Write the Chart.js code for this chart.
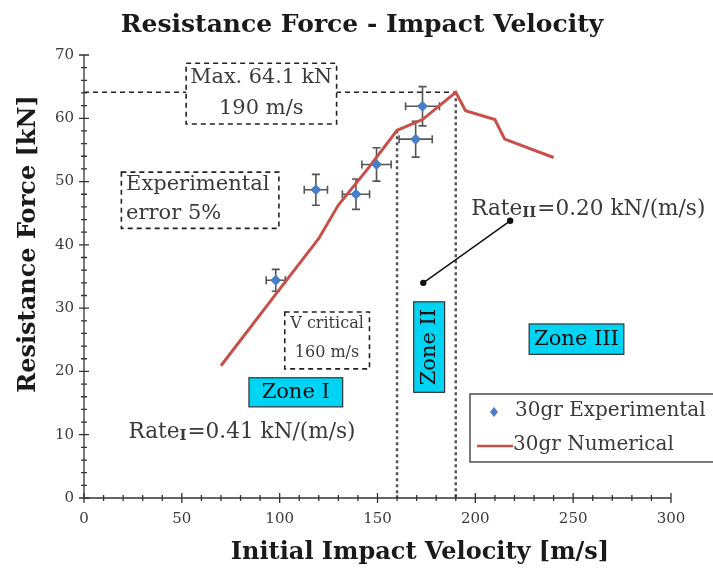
<!DOCTYPE html>
<html><head><meta charset="utf-8">
<script src="https://cdn.jsdelivr.net/npm/chart.js@4.4.1/dist/chart.umd.min.js"></script>
<style>html,body{margin:0;padding:0;background:#fff}#wrap{width:713px;height:572px;position:relative}</style>
</head><body><div id="wrap"><canvas id="c" width="713" height="572"></canvas></div>
<script>
// ---- data ----
const expVelocity = [98, 118.5, 139, 149.5, 169.5, 173];
const expForce = [34.4, 48.7, 48.0, 52.7, 56.7, 61.9];
const expErrorPct = 5;
const numVelocity = [70, 100, 120, 130, 145, 160, 173, 190, 195, 210, 215, 240];
const numForce = [20.9, 33.0, 41.0, 46.3, 52.0, 58.1, 59.8, 64.1, 61.2, 59.8, 56.7, 53.8];
const xTicks = [0, 50, 100, 150, 200, 250, 300];
const yTicks = [0, 10, 20, 30, 40, 50, 60, 70];
const peakVelocity = 190, peakForce = 64.1;
const criticalVelocity = 160, criticalForce = 58.1;
const rateLine = [[173.4, 34.0], [217.8, 43.8]];

const SERIF = '"DejaVu Serif", "Liberation Serif", serif';
const TXT = '#3a3a3a';
const ANN = '21px ' + SERIF;
const RATE = '21.6px ' + SERIF;

function dashedBox(ctx, x1, y1, x2, y2) {
  ctx.save();
  ctx.fillStyle = '#fff';
  ctx.fillRect(x1, y1, x2 - x1, y2 - y1);
  ctx.setLineDash([5, 4]);
  ctx.lineWidth = 1.6;
  ctx.strokeStyle = '#222';
  ctx.strokeRect(x1, y1, x2 - x1, y2 - y1);
  ctx.restore();
}
function zoneBox(ctx, x1, y1, x2, y2) {
  ctx.save();
  ctx.fillStyle = '#00d4f5';
  ctx.fillRect(x1, y1, x2 - x1, y2 - y1);
  ctx.lineWidth = 1.2;
  ctx.strokeStyle = '#333';
  ctx.strokeRect(x1, y1, x2 - x1, y2 - y1);
  ctx.restore();
}
function rateText(ctx, x, y, sub, rest) {
  ctx.save();
  ctx.fillStyle = TXT;
  ctx.textBaseline = 'middle';
  ctx.textAlign = 'left';
  ctx.font = RATE;
  ctx.fillText('Rate', x, y);
  let w = ctx.measureText('Rate').width;
  ctx.font = 'bold 15px "DejaVu Serif", serif';
  ctx.fillText(sub, x + w, y + 4);
  w += ctx.measureText(sub).width + 1;
  ctx.font = RATE;
  ctx.fillText(rest, x + w, y);
  ctx.restore();
}

const overlay = {
  id: 'overlay',
  beforeDatasetsDraw(chart) {
    const ctx = chart.ctx, xs = chart.scales.x, ys = chart.scales.y;
    const X = v => xs.getPixelForValue(v), Y = v => ys.getPixelForValue(v);
    // reference lines
    ctx.save();
    ctx.setLineDash([5, 4]);
    ctx.lineWidth = 1.5;
    ctx.strokeStyle = '#222';
    ctx.beginPath();
    ctx.moveTo(X(0), Y(peakForce)); ctx.lineTo(X(peakVelocity), Y(peakForce));
    ctx.stroke();
    ctx.setLineDash([3, 3]);
    ctx.lineWidth = 2.5;
    ctx.strokeStyle = '#555';
    ctx.beginPath();
    ctx.moveTo(X(peakVelocity), Y(peakForce)); ctx.lineTo(X(peakVelocity), Y(0));
    ctx.moveTo(X(criticalVelocity), Y(criticalForce)); ctx.lineTo(X(criticalVelocity), Y(0));
    ctx.stroke();
    ctx.restore();

    // dashed annotation boxes
    ctx.save();
    ctx.font = ANN;
    ctx.textBaseline = 'middle';
    dashedBox(ctx, X(52.2), Y(68.7), X(129.1), Y(59.1));
    ctx.fillStyle = TXT; ctx.textAlign = 'center';
    ctx.fillText('Max. 64.1 kN', X(90.6), Y(66.4), 142);
    ctx.fillText('190 m/s', X(90.6), Y(61.5));
    dashedBox(ctx, X(19.1), Y(51.5), X(99.6), Y(42.6));
    ctx.fillStyle = TXT; ctx.textAlign = 'left';
    ctx.fillText('Experimental', X(21.5), Y(49.5));
    ctx.fillText('error 5%', X(21.5), Y(44.9));
    dashedBox(ctx, X(102.6), Y(29.4), X(145.9), Y(20.4));
    ctx.fillStyle = TXT; ctx.textAlign = 'center';
    ctx.font = '16px ' + SERIF;
    ctx.fillText('V critical', X(124.2), Y(27.5), 76);
    ctx.fillText('160 m/s', X(124.2), Y(22.9));
    ctx.font = ANN;

    // zone boxes
    zoneBox(ctx, X(84.3), Y(19.0), X(132.2), Y(14.4));
    zoneBox(ctx, X(227.5), Y(27.5), X(275.9), Y(22.7));
    zoneBox(ctx, X(168.5), Y(31.0), X(184.3), Y(16.7));
    ctx.fillStyle = '#111'; ctx.textAlign = 'center';
    ctx.fillText('Zone I', X(108.2), Y(16.7));
    ctx.fillText('Zone III', X(251.7), Y(25.1));
    ctx.save();
    ctx.translate(X(176.4), Y(23.85));
    ctx.rotate(-Math.PI / 2);
    ctx.fillText('Zone II', 0, 0);
    ctx.restore();
    ctx.restore();

    // rate texts and pointer line
    rateText(ctx, X(22.7), Y(10.4), 'I', '=0.41 kN/(m/s)');
    rateText(ctx, X(197.9), Y(45.6), 'II', '=0.20 kN/(m/s)');
    ctx.save();
    ctx.strokeStyle = '#111'; ctx.fillStyle = '#111'; ctx.lineWidth = 1.5;
    ctx.beginPath();
    ctx.moveTo(X(rateLine[0][0]), Y(rateLine[0][1]));
    ctx.lineTo(X(rateLine[1][0]), Y(rateLine[1][1]));
    ctx.stroke();
    for (const p of rateLine) {
      ctx.beginPath(); ctx.arc(X(p[0]), Y(p[1]), 3.2, 0, Math.PI * 2); ctx.fill();
    }
    ctx.restore();

    // error bars
    ctx.save();
    ctx.strokeStyle = '#555'; ctx.lineWidth = 1.6;
    for (let i = 0; i < expVelocity.length; i++) {
      const v = expVelocity[i], f = expForce[i];
      const dv = v * expErrorPct / 100, df = f * expErrorPct / 100;
      const cx = X(v), cy = Y(f);
      const xl = X(v - dv), xr = X(v + dv), yt = Y(f + df), yb = Y(f - df);
      ctx.beginPath();
      ctx.moveTo(xl, cy); ctx.lineTo(xr, cy);
      ctx.moveTo(cx, yt); ctx.lineTo(cx, yb);
      ctx.moveTo(xl, cy - 4); ctx.lineTo(xl, cy + 4);
      ctx.moveTo(xr, cy - 4); ctx.lineTo(xr, cy + 4);
      ctx.moveTo(cx - 4, yt); ctx.lineTo(cx + 4, yt);
      ctx.moveTo(cx - 4, yb); ctx.lineTo(cx + 4, yb);
      ctx.stroke();
    }
    ctx.restore();
  },
  afterDraw(chart) {
    const ctx = chart.ctx, xs = chart.scales.x, ys = chart.scales.y;
    const X = v => xs.getPixelForValue(v), Y = v => ys.getPixelForValue(v);
    const x0 = X(0), y0 = Y(0);
    ctx.save();
    ctx.strokeStyle = '#333'; ctx.lineWidth = 1.3;
    ctx.beginPath();
    ctx.moveTo(x0, Y(70)); ctx.lineTo(x0, y0); ctx.lineTo(X(300), y0);
    ctx.stroke();
    ctx.beginPath();
    for (let v = 0; v <= 70; v += 2) {
      const major = v % 10 === 0, py = Y(v);
      ctx.moveTo(x0 - (major ? 5 : 3), py); ctx.lineTo(x0 + (major ? 5 : 3), py);
    }
    for (let v = 0; v <= 300; v += 10) {
      const major = v % 50 === 0, px = X(v);
      ctx.moveTo(px, y0 - (major ? 5 : 3)); ctx.lineTo(px, y0 + (major ? 5 : 3));
    }
    ctx.stroke();
    ctx.fillStyle = TXT;
    ctx.font = '15px ' + SERIF;
    ctx.textAlign = 'right'; ctx.textBaseline = 'middle';
    for (const t of yTicks) ctx.fillText(String(t), x0 - 10, Y(t));
    ctx.textAlign = 'center'; ctx.textBaseline = 'top';
    for (const t of xTicks) ctx.fillText(String(t), X(t), y0 + 14);

    // titles
    ctx.fillStyle = '#1a1a1a';
    ctx.font = 'bold 25px ' + SERIF;
    ctx.textAlign = 'center'; ctx.textBaseline = 'middle';
    ctx.fillText('Resistance Force - Impact Velocity', 362, 25);
    ctx.font = 'bold 24px ' + SERIF;
    ctx.fillText('Initial Impact Velocity [m/s]', 420, 553);
    ctx.save();
    ctx.translate(29, 244);
    ctx.rotate(-Math.PI / 2);
    ctx.fillText('Resistance Force [kN]', 0, 0);
    ctx.restore();

    // legend
    const lx = 470, ly = 394, lw = 260, lh = 68;
    ctx.fillStyle = '#fff';
    ctx.fillRect(lx, ly, lw, lh);
    ctx.strokeStyle = '#333'; ctx.lineWidth = 1.3;
    ctx.strokeRect(lx, ly, lw, lh);
    ctx.fillStyle = '#4a7fc8';
    ctx.beginPath();
    ctx.moveTo(494, 407); ctx.lineTo(498, 412); ctx.lineTo(494, 417); ctx.lineTo(490, 412); ctx.closePath();
    ctx.fill();
    ctx.strokeStyle = '#c8504b'; ctx.lineWidth = 2.5;
    ctx.beginPath(); ctx.moveTo(477, 446); ctx.lineTo(513, 446); ctx.stroke();
    ctx.fillStyle = TXT; ctx.font = '20px ' + SERIF;
    ctx.textAlign = 'left'; ctx.textBaseline = 'middle';
    ctx.fillText('30gr Experimental', 515, 411);
    ctx.fillText('30gr Numerical', 513, 445);
    ctx.restore();
  }
};

new Chart(document.getElementById('c'), {
  type: 'scatter',
  data: {
    datasets: [
      {
        label: '30gr Numerical',
        data: numVelocity.map((v, i) => ({ x: v, y: numForce[i] })),
        showLine: true,
        borderColor: '#c8504b',
        borderWidth: 3,
        pointRadius: 0,
        tension: 0,
        order: 2
      },
      {
        label: '30gr Experimental',
        data: expVelocity.map((v, i) => ({ x: v, y: expForce[i] })),
        pointStyle: 'rectRot',
        pointRadius: 5.5,
        backgroundColor: '#4a7fc8',
        borderColor: '#4a7fc8',
        borderWidth: 0,
        order: 1
      }
    ]
  },
  options: {
    responsive: false,
    animation: false,
    layout: { padding: { left: 84, right: 42, top: 55, bottom: 74 } },
    scales: {
      x: { type: 'linear', min: 0, max: 300, display: false },
      y: { type: 'linear', min: 0, max: 70, display: false }
    },
    plugins: { legend: { display: false }, title: { display: false }, tooltip: { enabled: false } }
  },
  plugins: [overlay]
});
</script>
</body></html>
